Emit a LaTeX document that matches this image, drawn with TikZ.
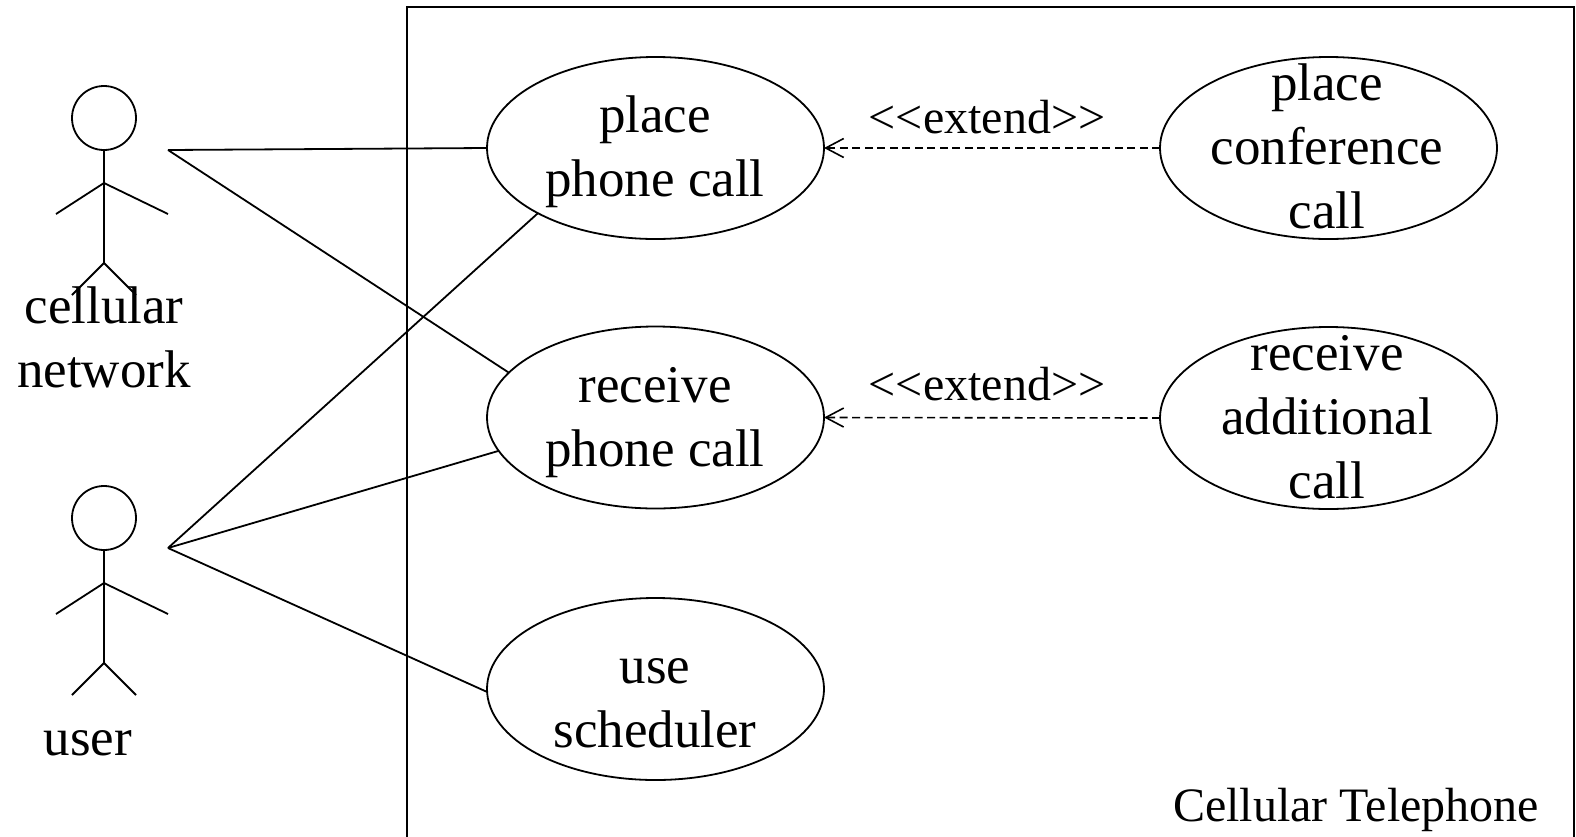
\documentclass[tikz,border=0pt]{standalone}
\usepackage{fontspec}
\setmainfont{Liberation Serif}
\usetikzlibrary{shapes.geometric,arrows.meta}
\newcommand\ucstrut{\rule[-10pt]{0pt}{58pt}}
\begin{document}
\begin{tikzpicture}[x=1pt,y=-1pt,line width=1.8pt,
  uc/.style={ellipse,draw,minimum width=337pt,minimum height=182pt,inner sep=0pt,outer sep=0pt},
  uctext/.style={align=center,font=\fontsize{53}{64}\selectfont,inner sep=0pt},
  lbl/.style={font=\fontsize{48}{58}\selectfont,inner sep=0pt,anchor=base},
  head/.style={circle,draw,minimum size=64pt,inner sep=0pt,outer sep=0pt},
  assoc/.style={line width=1.8pt},
  ext/.style={line width=1.6pt,dash pattern=on 8pt off 4.5pt,
    -{Straight Barb[length=18pt,width=19pt]}}]
\useasboundingbox (0,0) rectangle (1576,836);
% system boundary
\coordinate (sysbl) at (407,845);
\coordinate (systl) at (407,7);
\coordinate (systr) at (1574,7);
\coordinate (sysbr) at (1574,845);
\draw (sysbl) -- (systl) -- (systr) -- (sysbr);
\node[lbl] (systitle) at (1356,821) {Cellular Telephone};
% actor: cellular network
\node[head] (cnhead) at (104,118) {};
\coordinate (cnsh) at (104,183);
\coordinate (cnhip) at (104,263);
\coordinate (cnp) at (168,150);
\draw (cnhead.south) -- (cnhip);
\draw (56,214) -- (cnsh) -- (168,214);
\draw (72,295) -- (cnhip) -- (136,295);
\node[uctext] (cnlabel) at (104,336) {\ucstrut cellular\\\ucstrut network};
% actor: user
\node[head] (ushead) at (104,518) {};
\coordinate (ussh) at (104,583);
\coordinate (uship) at (104,663);
\coordinate (usp) at (168,548);
\draw (ushead.south) -- (uship);
\draw (56,614) -- (ussh) -- (168,614);
\draw (72,695) -- (uship) -- (136,695);
\node[uctext,anchor=base] (uslabel) at (88,755) {user};
% use cases
\node[uc] (ppc) at (655.5,148) {};
\node[uc] (rpc) at (655.5,417.5) {};
\node[uc] (usc) at (655.5,689) {};
\node[uc] (pcc) at (1328.5,148) {};
\node[uc] (rac) at (1328.5,418) {};
\node[uctext] (ppct) at (655,146) {\ucstrut place\\\ucstrut phone call};
\node[uctext] (rpct) at (655,416) {\ucstrut receive\\\ucstrut phone call};
\node[uctext] (usct) at (655,696) {\ucstrut use\\\ucstrut scheduler};
\node[uctext] (pcct) at (1327,145) {\ucstrut place\\\ucstrut conference\\\ucstrut call};
\node[uctext] (ract) at (1327,415) {\ucstrut receive\\\ucstrut additional\\\ucstrut call};
% associations
\draw[assoc] (cnp) -- (ppc.west);
\draw[assoc] (cnp) -- (rpc.163.5);
\draw[assoc] (usp) -- (ppc.209.5);
\draw[assoc] (usp) -- (rpc.192.5);
\draw[assoc] (usp) -- (usc.181.4);
% extends
\draw[ext] (pcc.west) -- (ppc.east);
\draw[ext] (rac.west) -- (rpc.east);
\node[lbl] (ext1) at (987,133) {<{}<extend>{}>};
\node[lbl] (ext2) at (987,400) {<{}<extend>{}>};
\end{tikzpicture}
\end{document}
